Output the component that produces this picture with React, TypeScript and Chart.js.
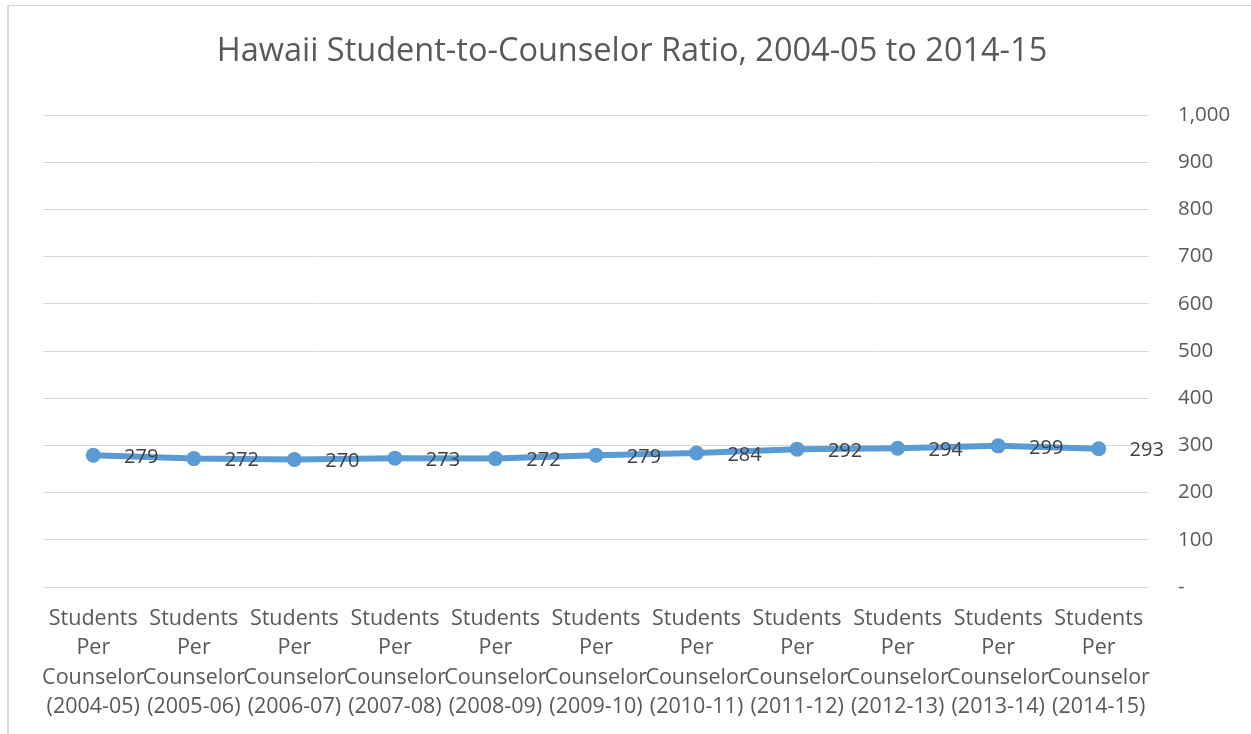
import React, { useEffect, useRef } from "react";
import { Chart, registerables } from "chart.js";

Chart.register(...registerables);

const years = ["2004-05", "2005-06", "2006-07", "2007-08", "2008-09", "2009-10", "2010-11", "2011-12", "2012-13", "2013-14", "2014-15"];
const ratios = [279, 272, 270, 273, 272, 279, 284, 292, 294, 299, 293];
const yTicks = [0, 100, 200, 300, 400, 500, 600, 700, 800, 900, 1000];
const titleText = "Hawaii Student-to-Counselor Ratio, 2004-05 to 2014-15";

const FONT = "'Open Sans', 'Liberation Sans', sans-serif";

export default function App() {
  const ref = useRef<HTMLCanvasElement | null>(null);
  useEffect(() => {
    if (!ref.current) return;
    const labels = years.map((y) => ["Students", "Per", "Counselor", "(" + y + ")"]);
    const labelPlugin = {
      id: "extras",
      afterDatasetsDraw(chart: any) {
        const ctx = chart.ctx;
        const meta = chart.getDatasetMeta(0);
        ctx.save();
        ctx.font = "20px " + FONT;
        ctx.fillStyle = "#404040";
        ctx.textAlign = "center";
        ctx.textBaseline = "middle";
        meta.data.forEach((pt: any, i: number) => {
          ctx.fillText(String(ratios[i]), pt.x + 48, pt.y + 2);
        });
        ctx.restore();
      },
      afterDraw(chart: any) {
        const ctx = chart.ctx;
        ctx.save();
        ctx.font = "32.5px " + FONT;
        ctx.fillStyle = "#595959";
        ctx.textAlign = "center";
        ctx.textBaseline = "middle";
        ctx.fillText(titleText, 632, 52);
        ctx.restore();
      },
    };
    const chart = new Chart(ref.current, {
      type: "line",
      data: {
        labels,
        datasets: [
          {
            data: ratios,
            borderColor: "#5B9BD5",
            backgroundColor: "#5B9BD5",
            borderWidth: 6,
            pointRadius: 7.5,
            pointHoverRadius: 7.5,
            pointBorderWidth: 0,
            tension: 0,
          },
        ],
      },
      options: {
        responsive: false,
        animation: false,
        layout: { padding: { left: 43, top: 115, right: 0, bottom: 0 } },
        plugins: { legend: { display: false }, tooltip: { enabled: false }, title: { display: false } },
        scales: {
          x: {
            offset: true,
            grid: { display: false, drawTicks: false },
            border: { display: false },
            ticks: {
              autoSkip: false,
              maxRotation: 0,
              minRotation: 0,
              padding: 17,
              color: "#595959",
              font: { family: FONT, size: 21.5, lineHeight: 29.5 / 21.5 },
            },
            afterFit(scale: any) {
              scale.height = 147;
            },
          },
          y: {
            position: "right",
            min: 0,
            max: 1000,
            afterBuildTicks(scale: any) {
              scale.ticks = yTicks.map((v) => ({ value: v }));
            },
            grid: { color: "#d9d9d9", lineWidth: 1, drawTicks: false },
            border: { display: false },
            ticks: {
              padding: 29,
              crossAlign: "near",
              color: "#595959",
              font: { family: FONT, size: 20.5 },
              callback: (v: any) => (Number(v) === 0 ? "-" : Number(v).toLocaleString("en-US")),
            },
            afterFit(scale: any) {
              scale.width = 102;
            },
          },
        },
      },
      plugins: [labelPlugin],
    });
    return () => chart.destroy();
  }, []);
  return (
    <div style={{ position: "fixed", left: 0, top: 0, width: 1251, height: 734, background: "#fff" }}>
      <div style={{ position: "absolute", left: 7, top: 5, right: 0, bottom: 0, borderLeft: "2px solid #d9d9d9", borderTop: "1px solid #d9d9d9" }} />
      <canvas ref={ref} width={1251} height={734} style={{ position: "absolute", left: 0, top: 0 }} />
    </div>
  );
}
